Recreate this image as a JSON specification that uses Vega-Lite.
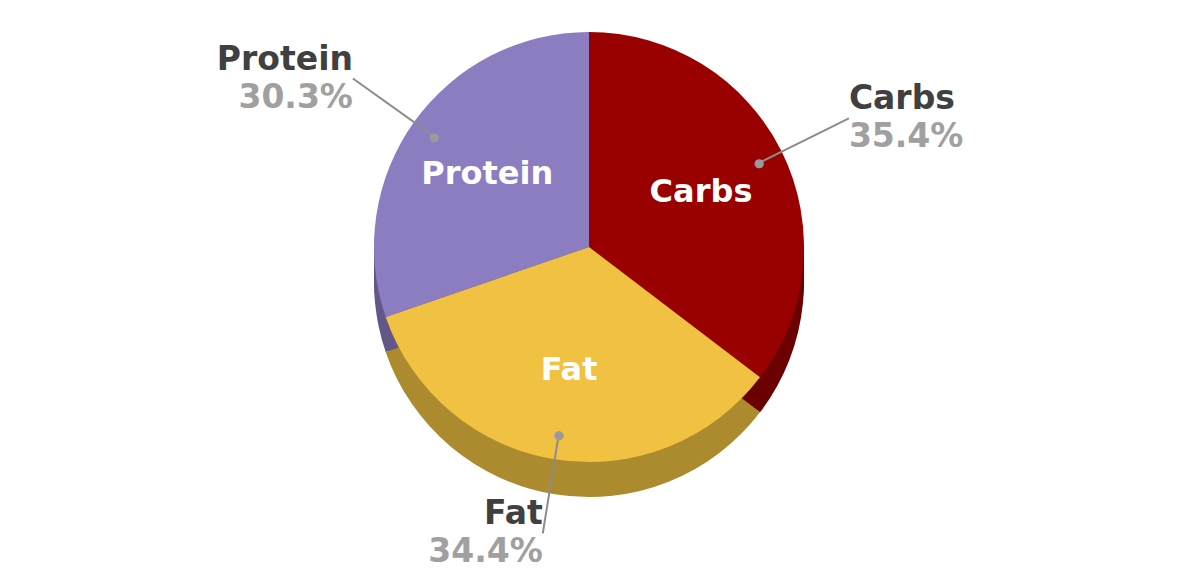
{
  "$schema": "https://vega.github.io/schema/vega-lite/v6.json",
  "width": 1178,
  "height": 574,
  "padding": 0,
  "autosize": {"type": "fit", "contains": "padding"},
  "background": "white",
  "config": {"view": {"stroke": null}, "font": "DejaVu Sans"},
  "data": {
    "values": [
      {"name": "Carbs", "share": 0.354},
      {"name": "Fat", "share": 0.344},
      {"name": "Protein", "share": 0.303}
    ]
  },
  "transform": [
    {
      "stack": "share",
      "groupby": [],
      "sort": [{"field": "name", "order": "ascending"}],
      "offset": "normalize",
      "as": ["v0", "v1"]
    }
  ],
  "layer": [
    {
      "mark": {"type": "arc", "outerRadius": 215, "yOffset": -33},
      "encoding": {
        "theta": {"field": "v0", "type": "quantitative", "scale": {"domain": [0, 1]}},
        "theta2": {"field": "v1"},
        "fill": {
          "field": "name", "type": "nominal", "legend": null,
          "scale": {"domain": ["Carbs", "Fat", "Protein"], "range": ["#6B0000", "#AC8A2E", "#625786"]}
        }
      }
    },
    {
      "mark": {"type": "arc", "outerRadius": 215, "yOffset": -26},
      "encoding": {
        "theta": {"field": "v0", "type": "quantitative"},
        "theta2": {"field": "v1"},
        "fill": {"field": "name", "type": "nominal", "legend": null}
      }
    },
    {
      "mark": {"type": "arc", "outerRadius": 215, "yOffset": -19},
      "encoding": {
        "theta": {"field": "v0", "type": "quantitative"},
        "theta2": {"field": "v1"},
        "fill": {"field": "name", "type": "nominal", "legend": null}
      }
    },
    {
      "mark": {"type": "arc", "outerRadius": 215, "yOffset": -12},
      "encoding": {
        "theta": {"field": "v0", "type": "quantitative"},
        "theta2": {"field": "v1"},
        "fill": {"field": "name", "type": "nominal", "legend": null}
      }
    },
    {
      "mark": {"type": "arc", "outerRadius": 215, "yOffset": -5},
      "encoding": {
        "theta": {"field": "v0", "type": "quantitative"},
        "theta2": {"field": "v1"},
        "fill": {"field": "name", "type": "nominal", "legend": null}
      }
    },
    {
      "mark": {"type": "arc", "outerRadius": 215, "yOffset": -40},
      "encoding": {
        "theta": {"field": "v0", "type": "quantitative"},
        "theta2": {"field": "v1"},
        "color": {
          "field": "name", "type": "nominal", "legend": null,
          "scale": {"domain": ["Carbs", "Fat", "Protein"], "range": ["#990000", "#F1C142", "#8C7DC1"]}
        }
      }
    },
    {
      "transform": [
        {"fold": ["v0", "v1"], "as": ["edge", "pos"]},
        {"aggregate": [{"op": "mean", "field": "pos", "as": "mid"}], "groupby": ["name", "share"]}
      ],
      "layer": [
        {
          "mark": {"type": "arc", "innerRadius": 190, "outerRadius": 290, "yOffset": -40, "stroke": "#8C8C8C", "strokeWidth": 2, "fill": null},
          "encoding": {
            "theta": {"field": "mid", "type": "quantitative"},
            "theta2": {"field": "mid"}
          }
        },
        {
          "mark": {"type": "text", "radius": 190, "yOffset": -40, "fontSize": 12, "color": "#9A9A9A", "align": "center", "baseline": "middle"},
          "encoding": {
            "theta": {"field": "mid", "type": "quantitative"},
            "text": {"value": "●"}
          }
        },
        {
          "mark": {"type": "text", "radius": 125, "yOffset": -40, "fontSize": 32, "fontWeight": "bold", "color": "white", "align": "center", "baseline": "middle"},
          "encoding": {
            "theta": {"field": "mid", "type": "quantitative"},
            "text": {"field": "name"}
          }
        },
        {
          "transform": [{"filter": "datum.name === 'Carbs'"}],
          "layer": [
            {
              "mark": {"type": "text", "radius": 290, "yOffset": -42, "fontSize": 33, "fontWeight": "bold", "color": "#404040", "align": "left", "baseline": "bottom"},
              "encoding": {
                "theta": {"field": "mid", "type": "quantitative"},
                "text": {"field": "name"}
              }
            },
            {
              "mark": {"type": "text", "radius": 290, "yOffset": -37, "fontSize": 33, "fontWeight": "bold", "color": "#A0A0A0", "align": "left", "baseline": "top"},
              "encoding": {
                "theta": {"field": "mid", "type": "quantitative"},
                "text": {"field": "share", "format": ".1%"}
              }
            }
          ]
        },
        {
          "transform": [{"filter": "datum.name !== 'Carbs'"}],
          "layer": [
            {
              "mark": {"type": "text", "radius": 290, "yOffset": -42, "fontSize": 33, "fontWeight": "bold", "color": "#404040", "align": "right", "baseline": "bottom"},
              "encoding": {
                "theta": {"field": "mid", "type": "quantitative"},
                "text": {"field": "name"}
              }
            },
            {
              "mark": {"type": "text", "radius": 290, "yOffset": -37, "fontSize": 33, "fontWeight": "bold", "color": "#A0A0A0", "align": "right", "baseline": "top"},
              "encoding": {
                "theta": {"field": "mid", "type": "quantitative"},
                "text": {"field": "share", "format": ".1%"}
              }
            }
          ]
        }
      ]
    }
  ]
}
